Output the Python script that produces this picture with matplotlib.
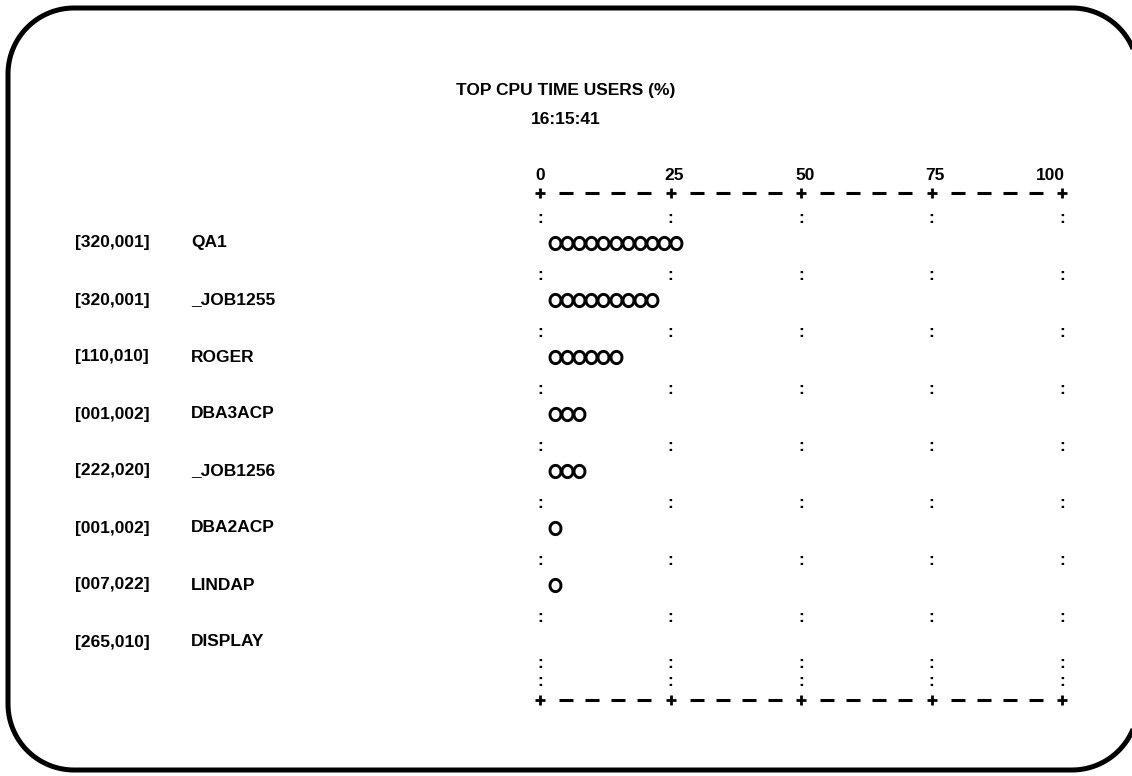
import numpy as np
import matplotlib.pyplot as plt

plt.rcParams['font.family'] = ['Liberation Sans', 'DejaVu Sans']

# ---- data ----
uics = ['[320,001]', '[320,001]', '[110,010]', '[001,002]',
        '[222,020]', '[001,002]', '[007,022]', '[265,010]']
names = ['QA1', '_JOB1255', 'ROGER', 'DBA3ACP',
         '_JOB1256', 'DBA2ACP', 'LINDAP', 'DISPLAY']
o_counts = [11, 9, 6, 3, 3, 1, 1, 0]   # number of "O" marks per user
scale_ticks = [0, 25, 50, 75, 100]
title = 'TOP CPU TIME USERS (%)'
clock = '16:15:41'

# layout (pixels of the 1132x776 screen)
W, H = 1132, 776
x0_px, px_per_pct = 540, 5.22      # where 0 % sits, px per 1 %
row0_px, row_px = 243, 57          # first row centre, row pitch
fs = 12.5

fig = plt.figure(figsize=(W / 100, H / 100), dpi=100)

# frame of the terminal screen, in pixels (y down)
frame_ax = fig.add_axes([0, 0, 1, 1])
frame_ax.set_xlim(0, W)
frame_ax.set_ylim(H, 0)
frame_ax.axis('off')

left, top, right, bottom, r = 8, 8, 1138, 770, 66
corners = [(right - r, top + r, -90, 0),      # top right
           (right - r, bottom - r, 0, 90),    # bottom right
           (left + r, bottom - r, 90, 180),   # bottom left
           (left + r, top + r, 180, 270)]     # top left
fx, fy = [], []
for cx, cy, a0, a1 in corners:
    a = np.radians(np.linspace(a0, a1, 30))
    fx.extend(cx + r * np.cos(a))
    fy.extend(cy + r * np.sin(a))
frame_ax.fill(fx, fy, fill=False, edgecolor='black', lw=3.6, clip_on=False)

# chart axes: x in %, y in rows
ax = fig.add_axes([0, 0, 1, 1])
ax.set_xlim(-x0_px / px_per_pct, (W - x0_px) / px_per_pct)
ax.set_ylim((H - row0_px) / row_px, -row0_px / row_px)
ax.axis('off')

def py(p):
    # pixel row -> data y
    return (p - row0_px) / row_px

txt = dict(fontsize=fs, fontweight='bold', color='black')

# title
ax.text(5.0, py(91), title, ha='center', va='center', **txt)
ax.text(5.0, py(120), clock, ha='center', va='center', **txt)

# scale labels
for t in scale_ticks:
    if t == 0:
        ax.text(t, py(175), str(t), ha='center', va='center', **txt)
    elif t == 100:
        ax.text(t + 0.6, py(175), str(t), ha='right', va='center', **txt)
    else:
        ax.text(t + 0.7, py(175), str(t), ha='center', va='center', **txt)

# top and bottom "+ - - - - +" rulers
dash_x = [t + 5 * j for t in scale_ticks[:-1] for j in range(1, 5)]
for yr in [py(193), py(700)]:
    ax.plot(scale_ticks, [yr] * len(scale_ticks), ls='none', marker='+',
            ms=7.5, mew=2, color='black')
    ax.plot(dash_x, [yr] * len(dash_x), ls='none', marker='_',
            ms=10.5, mew=2.2, color='black')

# colon guides
colon_rows = [k - 0.43 for k in range(len(names))] + [py(663), py(682)]
for yr in colon_rows:
    for t in scale_ticks:
        ax.text(t, yr, ':', ha='center', va='center', **txt)

# letter-O shaped marker (a touch taller than wide)
th = np.linspace(0, 2 * np.pi, 41)
o_marker = list(zip(0.9 * np.cos(th), np.sin(th)))

# rows
for i, (u, n, c) in enumerate(zip(uics, names, o_counts)):
    ax.text(-89.0, i, u, ha='left', va='center', **txt)
    ax.text(-66.8, i, n, ha='left', va='center', **txt)
    if c > 0:
        xs = [2.87 + 2.32 * k for k in range(c)]
        ax.plot(xs, [i] * c, ls='none', marker=o_marker, ms=8.8, mew=2.1,
                mfc='none', mec='black')

fig.savefig('out.png', dpi=100)
